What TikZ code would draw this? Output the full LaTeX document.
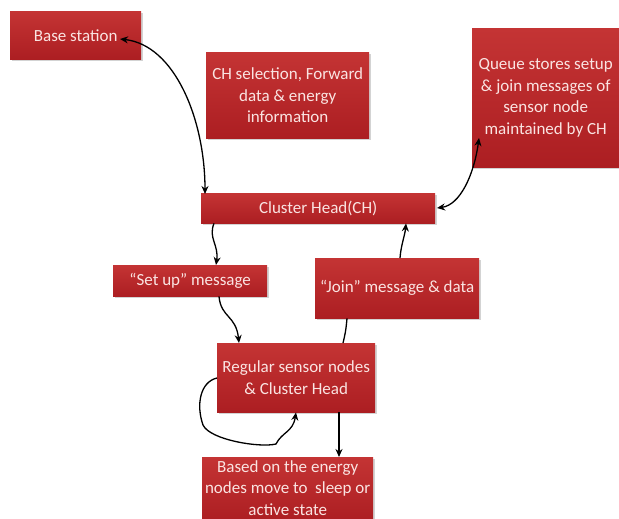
\documentclass[tikz,border=0pt]{standalone}
\usepackage{fontspec}
\setmainfont{Carlito}
\usetikzlibrary{arrows.meta,shadows}
\definecolor{boxtop}{RGB}{196,52,52}
\definecolor{boxbot}{RGB}{172,30,34}
\definecolor{boxtext}{RGB}{250,228,226}
\tikzset{
  rbox/.style={rectangle, top color=boxtop, bottom color=boxbot, draw=none,
    text=boxtext, font=\fontsize{17}{21.5}\selectfont, align=center, inner sep=0pt,
    drop shadow={shadow xshift=1.5pt, shadow yshift=-1.5pt, opacity=0.35}},
  conn/.style={draw=black, line width=1.3pt, -{Stealth[length=8pt,width=7pt]}},
  conn2/.style={draw=black, line width=1.3pt, {Stealth[length=8pt,width=7pt]}-{Stealth[length=8pt,width=7pt]}},
  plain/.style={draw=black, line width=1.3pt}
}
\begin{document}
\begin{tikzpicture}[x=1pt,y=-1pt]
\useasboundingbox (0,0) rectangle (619,519);
\node[rbox, minimum width=131pt, minimum height=48pt, anchor=north west] (bs) at (10,11) {Base station};
\node[rbox, minimum width=163pt, minimum height=86pt, anchor=north west] (ch1) at (206,52) {CH selection, Forward\\data \& energy\\information};
\node[rbox, minimum width=147pt, minimum height=139pt, anchor=north west] (q) at (472,28) {Queue stores setup\\\& join messages of\\sensor node\\maintained by CH};
\node[rbox, minimum width=234pt, minimum height=30pt, anchor=north west] (ch) at (201,193) {Cluster Head(CH)};
\node[rbox, minimum width=154pt, minimum height=31pt, anchor=north west] (su) at (113,265) {“Set up” message};
\node[rbox, minimum width=164pt, minimum height=60pt, anchor=north west] (jn) at (315,258) {“Join” message \& data};
\node[rbox, minimum width=158pt, minimum height=69pt, anchor=north west] (rs) at (217,343) {Regular sensor nodes\\\& Cluster Head};
\node[rbox, minimum width=171pt, minimum height=64pt, anchor=north west, text depth=3pt] (bo) at (202,457) {Based on the energy\\nodes move to\ \ sleep or\\active state};

\coordinate (bsE) at (120,39);
\coordinate (chT) at (205,194);
\draw[conn2] (bsE) .. controls (175,45) and (205,120) .. (chT);
\coordinate (qL) at (479,138);
\coordinate (chR) at (437,208);
\draw[conn2] (qL) .. controls (474,175) and (460,205) .. (chR);
\draw[conn] ([xshift=13pt]ch.south west) .. controls (208,238) and (219,245) .. ([xshift=103pt]su.north west);
\draw[conn] ([xshift=85pt]jn.north west) .. controls (401,245) and (405,235) .. ([xshift=205pt]ch.south west);
\draw[conn] ([xshift=106pt]su.south west) .. controls (221,318) and (236,315) .. ([xshift=22pt]rs.north west);
\draw[plain] ([xshift=32pt]jn.south west) .. controls (346,330) and (345,335) .. ([xshift=126pt]rs.north west);
\draw[conn] ([yshift=-35pt]rs.north west) .. controls (200,382) and (196,405) .. (203,425) .. controls (210,440) and (260,448) .. (276,444) .. controls (282,432) and (293,432) .. ([xshift=79pt]rs.south west);
\draw[conn] ([xshift=122pt]rs.south west) -- ([xshift=137pt]bo.north west);
\end{tikzpicture}
\end{document}
